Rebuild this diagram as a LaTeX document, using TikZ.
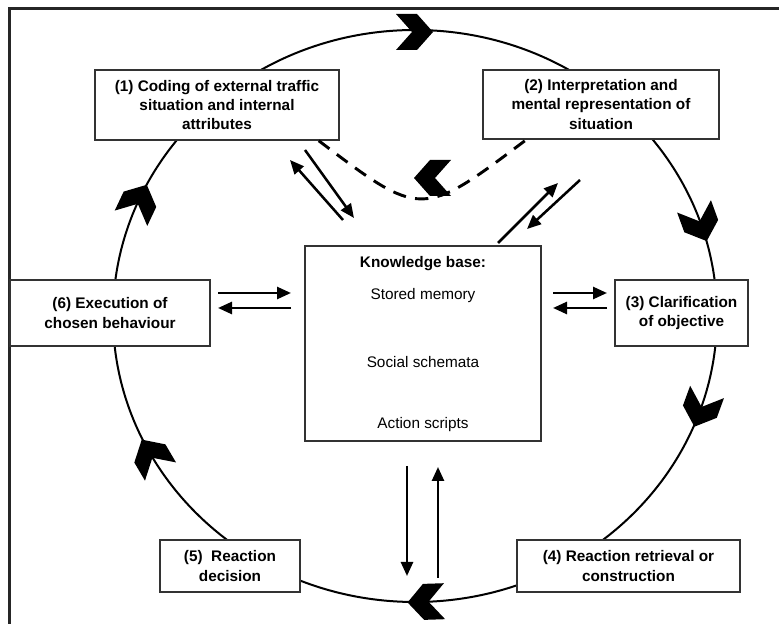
\documentclass[tikz,border=0pt]{standalone}
\usepackage{fontspec}
\setmainfont{Liberation Sans}
\usetikzlibrary{arrows.meta,calc}
% chevron placed on the ring at parameter angle #1, pointing clockwise
\newcommand\ringchev[1]{%
  \pgfmathsetmacro\chx{415+302*cos(#1)}%
  \pgfmathsetmacro\chy{307+285*sin(#1)}%
  \pgfmathsetmacro\cha{atan2(-285*cos(#1),302*sin(#1))}%
  \pic[rotate=\cha] at (\chx,\chy) {chevron};}
\begin{document}
\begin{tikzpicture}[x=0.75pt,y=0.75pt,
  box/.style={draw=black!80, line width=1.1pt, fill=white, align=center,
    font=\bfseries\fontsize{11.5}{14.5}\selectfont, inner sep=0pt},
  flow/.style={line width=1.9pt, -{Triangle[length=10.5pt,width=9pt]}},
  ring/.style={line width=1.5pt},
  frame/.style={line width=2.25pt, black!85},
  kbtext/.style={font=\fontsize{11.5}{14}\selectfont, inner sep=0pt},
  chevron/.pic={\fill (-19,18) -- (2,18) -- (18,0) -- (2,-18) -- (-19,-18) -- (-3,0) -- cycle;}
]
\useasboundingbox (0,0) rectangle (779,624);
\clip (0,0) rectangle (779,624);
\fill[white] (0,0) rectangle (779,624);

% outer frame
\draw[frame] (9,-40) -- (9,615) -- (820,615);

% the processing ring
\draw[ring] (415,308) ellipse [x radius=226.5pt, y radius=214.5pt];

% stage boxes
\node[box, minimum width=183pt, minimum height=52.5pt] (b1) at (217,519)
  {(1) Coding of external traffic\\situation and internal\\attributes};
\node[box, minimum width=177pt, minimum height=51.75pt] (b2) at (601,519.5)
  {(2) Interpretation and\\mental representation of\\situation};
\node[box, minimum width=99.75pt, minimum height=49.5pt] (b3) at (681.5,311)
  {(3) Clarification\\of objective};
\node[box, minimum width=167.25pt, minimum height=39pt] (b4) at (628.5,58)
  {(4) Reaction retrieval or\\construction};
\node[box, minimum width=105pt, minimum height=39pt] (b5) at (230,58)
  {(5)\ \ Reaction\\decision};
\node[box, minimum width=150pt, minimum height=49.5pt] (b6) at (110,311)
  {(6) Execution of\\chosen behaviour};

% knowledge base
\node[box, minimum width=177pt, minimum height=146.25pt] (kb) at (423,280.5) {};
\node[kbtext, font=\bfseries\fontsize{11.5}{14}\selectfont] (kbt) at (423,360) {Knowledge base:};
\node[kbtext] (kbm) at (423,328) {Stored memory};
\node[kbtext] (kbs) at (423,262) {Social schemata};
\node[kbtext] (kba) at (423,199) {Action scripts};

% chevrons on the ring
\ringchev{90}
\ringchev{19}
\ringchev{-19}
\ringchev{-88}
\ringchev{209}
\ringchev{156}

% dashed shortcut from (1) to (2)
\coordinate (d1) at ($(b1.south east)+(-21,0)$);
\coordinate (d2) at ($(b2.south west)+(44,0)$);
\draw[line width=2.2pt, dash pattern=on 10pt off 7pt] (d1) .. controls (421.5,405.5) .. (d2);
\pic[rotate=180] at (432,446) {chevron};

% exchange arrows with the knowledge base
\coordinate (a1) at (343,404); \coordinate (a2) at (290,464);
\coordinate (a3) at (305,474); \coordinate (a4) at (354,406);
\draw[flow] (a1) -- (a2);
\draw[flow] (a3) -- (a4);

\coordinate (c1) at (498,381); \coordinate (c2) at (558,441);
\coordinate (c3) at (580,444); \coordinate (c4) at (527,395);
\draw[flow] (c1) -- (c2);
\draw[flow] (c3) -- (c4);

\coordinate (r1) at (553,331); \coordinate (r2) at (607,331);
\coordinate (r3) at (607,316); \coordinate (r4) at (553,316);
\draw[flow] (r1) -- (r2);
\draw[flow] (r3) -- (r4);

\coordinate (l1) at (218,331); \coordinate (l2) at (291,331);
\coordinate (l3) at (291,316); \coordinate (l4) at (218,316);
\draw[flow] (l1) -- (l2);
\draw[flow] (l3) -- (l4);

\coordinate (v1) at (407,158); \coordinate (v2) at (407,48);
\coordinate (v3) at (438,46); \coordinate (v4) at (438,157);
\draw[flow] (v1) -- (v2);
\draw[flow] (v3) -- (v4);
\end{tikzpicture}
\end{document}
